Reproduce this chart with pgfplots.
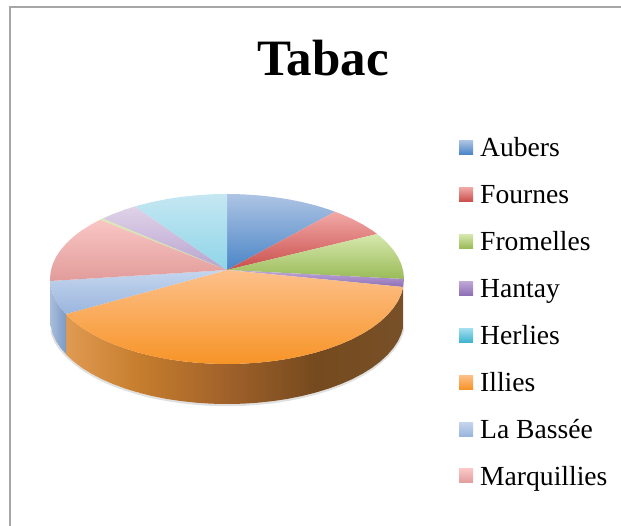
\documentclass[border=0pt]{standalone}
\usepackage{fontspec}
\setmainfont{Liberation Serif}
\usepackage{pgfplots}
\pgfplotsset{compat=1.18}
\definecolor{frame}{HTML}{A6A6A6}
\definecolor{aubT}{HTML}{AEC4E4}\definecolor{aubB}{HTML}{4A85C6}
\definecolor{fouT}{HTML}{F2A9A7}\definecolor{fouB}{HTML}{C94F4C}
\definecolor{froT}{HTML}{D6E8AE}\definecolor{froB}{HTML}{9ABB58}
\definecolor{hanT}{HTML}{C0A8D8}\definecolor{hanB}{HTML}{8E6FB5}
\definecolor{herT}{HTML}{A5DFF0}\definecolor{herB}{HTML}{3FB4D0}
\definecolor{illT}{HTML}{FDC08A}\definecolor{illB}{HTML}{F79427}
\definecolor{basT}{HTML}{C5D6EE}\definecolor{basB}{HTML}{9AB5DD}
\definecolor{marT}{HTML}{F9C6C4}\definecolor{marB}{HTML}{E19C9A}
\definecolor{sliT}{HTML}{DBE8B8}\definecolor{sliB}{HTML}{C8DC98}
\definecolor{purT}{HTML}{E0D2E8}\definecolor{purB}{HTML}{B8A4CF}
\definecolor{cyaT}{HTML}{C5E7F2}\definecolor{cyaB}{HTML}{8FD5E8}
\definecolor{wA}{HTML}{754A1E}\definecolor{wB}{HTML}{785028}
\definecolor{wC}{HTML}{A0612A}\definecolor{wD}{HTML}{C67D2D}
\definecolor{wE}{HTML}{E09A52}
\definecolor{wF}{HTML}{A9BEDD}\definecolor{wG}{HTML}{7B9AC5}
\begin{document}
\begin{tikzpicture}
\useasboundingbox (0,0) rectangle (621bp,526bp);
\begin{axis}[
  at={(0,0)}, anchor=south west,
  scale only axis, width=621bp, height=526bp,
  xmin=0, xmax=621, ymin=0, ymax=526, y dir=reverse,
  hide axis, clip=false,
  legend style={at={(axis cs:459,136.6)}, anchor=north west, draw=none, fill=none, inner sep=0pt,
    row sep=19.95bp, nodes={inner sep=0pt, text height=20bp, text depth=7bp, font=\fontsize{27.6bp}{30bp}\selectfont}},
  legend cell align=left,
  legend image code/.code={\path (0bp,0bp) -- (21bp,0bp);\path[#1,draw=none] (0bp,-4bp) rectangle (14bp,10bp);},
]
% frame
\addplot[forget plot, frame, line width=2bp] coordinates {(10,526)(10,7)(621,7)};
% soft shadow
\addplot[forget plot, black, opacity=0.12, line width=3bp] coordinates {(52,330)(52.7,334.5)(56,342)(60.7,349)(66.6,355.5)(73.7,362)(82,368.5)(91.4,374.3)(101.8,379.8)(113.2,384.8)(125.5,389.3)(138.5,393.3)(152.2,396.7)(166.5,399.6)(181.2,401.8)(196.3,403.4)(211.6,404.4)(227,404.7)(242.4,404.4)(257.7,403.4)(272.8,401.8)(287.5,399.6)(301.8,396.7)(315.5,393.3)(328.5,389.3)(340.8,384.8)(352.2,379.8)(362.6,374.3)(372,368.5)(380.3,362)(387.4,355.5)(393.3,348.8)(398,341.7)(401.3,334.5)(403,328)};
% side wall
\addplot[forget plot, draw=none, left color=wA, right color=wB] coordinates {(403.2,287)(401.3,293.8)(398,301)(393.3,308.1)(387.4,314.9)(380.3,321.5)(372,327.8)(362.6,333.6)(352.2,339.1)(340.8,344.1)(328.5,348.6)(315.5,352.6)(315.5,392.6)(328.5,388.6)(340.8,384.1)(352.2,379.1)(362.6,373.6)(372,367.8)(380.3,361.5)(387.4,354.9)(393.3,348.1)(398,341)(401.3,333.8)(403.2,327)} -- cycle;
\addplot[forget plot, draw=none, left color=wC, right color=wA] coordinates {(315.5,352.6)(301.8,356)(287.5,358.9)(272.8,361.1)(257.7,362.7)(242.4,363.7)(227,364)(227,404)(242.4,403.7)(257.7,402.7)(272.8,401.1)(287.5,398.9)(301.8,396)(315.5,392.6)} -- cycle;
\addplot[forget plot, draw=none, left color=wD, right color=wC] coordinates {(227,364)(211.6,363.7)(196.3,362.7)(181.2,361.1)(166.5,358.9)(152.2,356)(138.5,352.6)(138.5,392.6)(152.2,396)(166.5,398.9)(181.2,401.1)(196.3,402.7)(211.6,403.7)(227,404)} -- cycle;
\addplot[forget plot, draw=none, left color=wE, right color=wD] coordinates {(138.5,352.6)(125.5,348.6)(113.2,344.1)(101.8,339.1)(91.4,333.6)(82,327.8)(73.7,321.5)(66.6,314.9)(66,314)(66,354)(66.6,354.9)(73.7,361.5)(82,367.8)(91.4,373.6)(101.8,379.1)(113.2,384.1)(125.5,388.6)(138.5,392.6)} -- cycle;
\addplot[forget plot, draw=none, left color=wF, right color=wG] coordinates {(66,314)(60.7,308.1)(56,301)(52.7,293.8)(50.7,286.4)(50,281)(50,321)(50.7,326.4)(52.7,333.8)(56,341)(60.7,348.1)(66,354)} -- cycle;
% Aubers
\addplot[draw=none, top color=aubT, bottom color=aubB] coordinates {(227,270)(227,194)(242.4,194.3)(257.7,195.3)(272.8,196.9)(287.5,199.1)(301.8,202)(315.5,205.4)(328.5,209.4)(335,211.7)} -- cycle;
\addlegendentry{Aubers}
% Fournes
\addplot[draw=none, top color=fouT, bottom color=fouB] coordinates {(227,270)(335,211.7)(340.8,213.9)(352.2,218.9)(362.6,224.4)(372,230.2)(377.1,234)} -- cycle;
\addlegendentry{Fournes}
% Fromelles
\addplot[draw=none, top color=froT, bottom color=froB] coordinates {(227,270)(377.1,234)(380.3,236.5)(387.4,243.1)(393.3,249.9)(398,257)(401.3,264.2)(403.3,271.6)(404,279)} -- cycle;
\addlegendentry{Fromelles}
% Hantay
\addplot[draw=none, top color=hanT, bottom color=hanB] coordinates {(227,270)(404,279)(403.3,286.4)(403.2,287)} -- cycle;
\addlegendentry{Hantay}
% Herlies (no visible slice)
\addplot[draw=none, top color=herT, bottom color=herB] coordinates {(227,270)(403.2,287)(403.2,287)} -- cycle;
\addlegendentry{Herlies}
% Illies
\addplot[draw=none, top color=illT, bottom color=illB] coordinates {(227,270)(403.2,287)(401.3,293.8)(398,301)(393.3,308.1)(387.4,314.9)(380.3,321.5)(372,327.8)(362.6,333.6)(352.2,339.1)(340.8,344.1)(328.5,348.6)(315.5,352.6)(301.8,356)(287.5,358.9)(272.8,361.1)(257.7,362.7)(242.4,363.7)(227,364)(211.6,363.7)(196.3,362.7)(181.2,361.1)(166.5,358.9)(152.2,356)(138.5,352.6)(125.5,348.6)(113.2,344.1)(101.8,339.1)(91.4,333.6)(82,327.8)(73.7,321.5)(66.6,314.9)(66,314)} -- cycle;
\addlegendentry{Illies}
% La Bassee
\addplot[draw=none, top color=basT, bottom color=basB] coordinates {(227,270)(66,314)(60.7,308.1)(56,301)(52.7,293.8)(50.7,286.4)(50,281)} -- cycle;
\addlegendentry{La Bassée}
% Marquillies
\addplot[draw=none, top color=marT, bottom color=marB] coordinates {(227,270)(50,281)(50,279)(50.7,271.6)(52.7,264.2)(56,257)(60.7,249.9)(66.6,243.1)(73.7,236.5)(82,230.2)(91.4,224.4)(100.1,219.7)} -- cycle;
\addlegendentry{Marquillies}
% unnamed slices
\addplot[forget plot, draw=none, top color=sliT, bottom color=sliB] coordinates {(227,270)(100.1,219.7)(101.8,218.9)(102.9,218.4)} -- cycle;
\addplot[forget plot, draw=none, top color=purT, bottom color=purB] coordinates {(227,270)(102.9,218.4)(113.2,213.9)(125.5,209.4)(135,206.4)} -- cycle;
\addplot[forget plot, draw=none, top color=cyaT, bottom color=cyaB] coordinates {(227,270)(135,206.4)(138.5,205.4)(152.2,202)(166.5,199.1)(181.2,196.9)(196.3,195.3)(211.6,194.3)(227,194)} -- cycle;
\node[font=\fontsize{51bp}{54bp}\selectfont\bfseries, anchor=base] at (axis cs:323,76) {Tabac};
\end{axis}
\end{tikzpicture}
\end{document}
